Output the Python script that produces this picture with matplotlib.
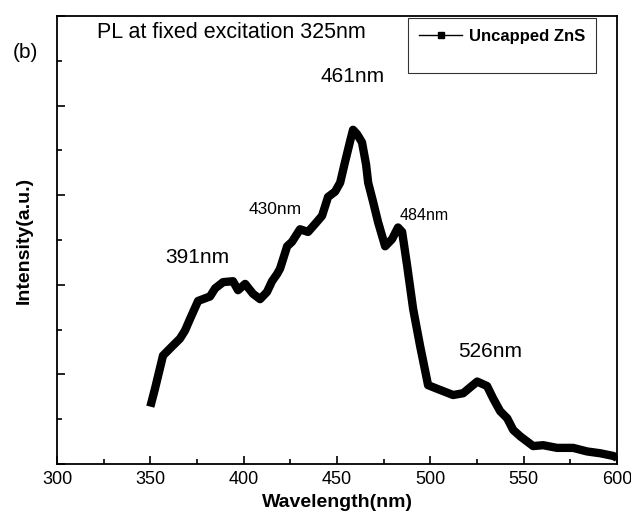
import matplotlib
matplotlib.use("Agg")
import matplotlib.pyplot as plt
from matplotlib.lines import Line2D
from matplotlib.ticker import MultipleLocator

plt.rcParams['font.family'] = ['Liberation Sans', 'DejaVu Sans']

# PL spectrum, uncapped ZnS (arbitrary units)
wavelength = [350, 352.5, 356.8, 360.6, 365.9, 368.6, 371.3, 375.6, 382.0, 384.7,
              389.0, 394.3, 397.0, 400.8, 405.0, 408.8, 412.5, 415.2, 417.9, 419.5,
              423.3, 425.9, 430.2, 434.5, 438.3, 442.0, 445.2, 449.0, 451.7, 454.3,
              457.0, 458.6, 460.8, 463.4, 465.6, 466.7, 469.3, 472.0, 475.8, 479.5,
              482.7, 484.9, 487.6, 490.8, 494.5, 498.8, 503.6, 512.2, 517.6, 525.1,
              530.4, 533.7, 537.4, 541.2, 544.4, 548.1, 555.1, 560.4, 567.9, 576.5,
              584.0, 591.0, 598.0, 600]
intensity = [0.64, 0.84, 1.21, 1.29, 1.40, 1.49, 1.62, 1.82, 1.87, 1.96,
             2.03, 2.04, 1.94, 2.01, 1.90, 1.84, 1.92, 2.04, 2.12, 2.18,
             2.43, 2.48, 2.62, 2.59, 2.68, 2.77, 2.98, 3.04, 3.14, 3.37,
             3.60, 3.73, 3.68, 3.59, 3.34, 3.14, 2.93, 2.70, 2.43, 2.51,
             2.64, 2.59, 2.21, 1.73, 1.32, 0.88, 0.84, 0.77, 0.79, 0.92,
             0.87, 0.73, 0.59, 0.51, 0.38, 0.31, 0.20, 0.21, 0.18, 0.18,
             0.14, 0.12, 0.09, 0.07]

peak_labels = ["391nm", "430nm", "461nm", "484nm", "526nm"]
peak_x = [375, 416.8, 458.6, 496.5, 532]
peak_y = [2.31, 2.84, 4.32, 2.77, 1.26]
peak_size = [15, 12.5, 15, 11.5, 15]

fig = plt.figure(figsize=(6.31, 5.28), dpi=100)
ax = fig.add_axes([0.0903, 0.1212, 0.8875, 0.8485])

ax.plot(wavelength, intensity, color='black', lw=6,
        solid_capstyle='butt', solid_joinstyle='round')

for lab, x, y, s in zip(peak_labels, peak_x, peak_y, peak_size):
    ax.text(x, y, lab, fontsize=s, ha='center', va='center')

ax.text(0.071, 0.964, "PL at fixed excitation 325nm", transform=ax.transAxes,
        fontsize=15.5, ha='left', va='center')
fig.text(0.041, 0.9, "(b)", fontsize=15, ha='center', va='center')

ax.set_xlim(300, 600)
ax.set_ylim(0, 5)
ax.xaxis.set_major_locator(MultipleLocator(50))
ax.xaxis.set_minor_locator(MultipleLocator(25))
ax.yaxis.set_major_locator(MultipleLocator(1))
ax.yaxis.set_minor_locator(MultipleLocator(0.5))
ax.tick_params(which='both', direction='in', top=False, right=False)
ax.tick_params(which='major', length=6, width=1.2, labelsize=13, pad=5)
ax.tick_params(which='minor', length=3.5, width=1.2)
ax.tick_params(axis='y', labelleft=False)
for sp in ax.spines.values():
    sp.set_linewidth(1.3)

ax.set_xlabel("Wavelength(nm)", fontsize=14, fontweight='bold', labelpad=4)
ax.set_ylabel("Intensity(a.u.)", fontsize=14, fontweight='bold', labelpad=14)

h1 = Line2D([], [], color='black', lw=1, marker='s', markersize=4)
h2 = Line2D([], [], color='none')
leg = ax.legend([h1, h2], ["Uncapped ZnS", " "], loc='upper right',
                bbox_to_anchor=(0.9625, 0.9955), fancybox=False, edgecolor='black',
                prop={'weight': 'bold', 'size': 12}, handlelength=2.6,
                handletextpad=0.4, borderpad=0.65, labelspacing=0.2,
                borderaxespad=0)
leg.get_frame().set_linewidth(0.8)

fig.savefig("out.png", dpi=100)
